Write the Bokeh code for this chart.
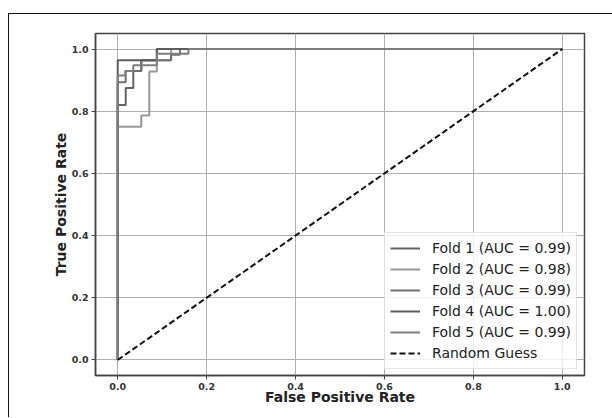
from bokeh.plotting import figure
from bokeh.models import Range1d, FixedTicker, Legend, LegendItem
from bokeh.embed import file_html
from bokeh.resources import INLINE

# ROC data per fold
fold1_fpr = [0.0, 0.0, 0.018, 0.018, 0.035, 0.035, 0.053, 0.053, 0.088, 0.088, 1.0]
fold1_tpr = [0.0, 0.82, 0.82, 0.875, 0.875, 0.929, 0.929, 0.964, 0.964, 1.0, 1.0]
fold2_fpr = [0.0, 0.0, 0.053, 0.053, 0.071, 0.071, 0.088, 0.088, 0.12, 0.12, 1.0]
fold2_tpr = [0.0, 0.75, 0.75, 0.786, 0.786, 0.928, 0.928, 0.964, 0.964, 1.0, 1.0]
fold3_fpr = [0.0, 0.0, 0.018, 0.018, 0.053, 0.053, 0.12, 0.12, 0.14, 0.14, 1.0]
fold3_tpr = [0.0, 0.893, 0.893, 0.929, 0.929, 0.964, 0.964, 0.982, 0.982, 1.0, 1.0]
fold4_fpr = [0.0, 0.0, 0.088, 0.088, 1.0]
fold4_tpr = [0.0, 0.964, 0.964, 1.0, 1.0]
fold5_fpr = [0.0, 0.0, 0.017, 0.017, 0.035, 0.035, 0.088, 0.088, 0.159, 0.159, 1.0]
fold5_tpr = [0.0, 0.915, 0.915, 0.929, 0.929, 0.948, 0.948, 0.985, 0.985, 1.0, 1.0]

fold_labels = ["Fold 1 (AUC = 0.99)", "Fold 2 (AUC = 0.98)", "Fold 3 (AUC = 0.99)",
               "Fold 4 (AUC = 1.00)", "Fold 5 (AUC = 0.99)"]
fold_colors = ["#646464", "#989898", "#707070", "#5c5c5c", "#7e7e7e"]
guess_x = [0.0, 1.0]
guess_y = [0.0, 1.0]
ticks = [0.0, 0.2, 0.4, 0.6, 0.8, 1.0]

p = figure(width=604, height=404, output_backend="svg", toolbar_location=None,
           x_range=Range1d(-0.05, 1.05), y_range=Range1d(-0.05, 1.05),
           min_border_left=86, min_border_right=29, min_border_top=19, min_border_bottom=43)
p.margin = (13, 0, 0, 8)
p.styles = {"border-top": "1.5px solid #111", "border-left": "1.5px solid #111"}

p.outline_line_color = "#444444"
p.outline_line_width = 1.5
for ax in (p.xaxis[0], p.yaxis[0]):
    ax.ticker = FixedTicker(ticks=ticks)
    ax.major_label_text_font = "DejaVu Sans"
    ax.major_label_text_font_style = "bold"
    ax.major_label_text_font_size = "9.5px"
    ax.major_label_text_color = "#333333"
    ax.axis_line_color = "#444444"
    ax.axis_line_width = 1.5
    ax.major_tick_line_color = "#444444"
    ax.major_tick_out = 4
    ax.major_tick_in = 0
    ax.minor_tick_line_color = None
    ax.axis_label_text_font = "DejaVu Sans"
    ax.axis_label_text_font_style = "bold"
    ax.axis_label_text_font_size = "14px"
    ax.axis_label_text_color = "#222222"
    ax.major_label_standoff = 3
p.xaxis[0].axis_label_standoff = -4
p.yaxis[0].axis_label_standoff = 0
p.xaxis.axis_label = "False Positive Rate"
p.yaxis.axis_label = "True Positive Rate"
p.xaxis[0].major_label_overrides = {t: f"{t:.1f}" for t in ticks}
p.yaxis[0].major_label_overrides = {t: f"{t:.1f}" for t in ticks}

p.grid.grid_line_color = "#b0b0b0"
p.grid.grid_line_width = 1
p.xgrid.ticker = FixedTicker(ticks=ticks)
p.ygrid.ticker = FixedTicker(ticks=ticks)

folds = [(fold1_fpr, fold1_tpr), (fold2_fpr, fold2_tpr), (fold3_fpr, fold3_tpr),
         (fold4_fpr, fold4_tpr), (fold5_fpr, fold5_tpr)]
items = []
for (fx, fy), lab, col in zip(folds, fold_labels, fold_colors):
    r = p.line(fx, fy, line_color=col, line_width=2)
    items.append(LegendItem(label=lab, renderers=[r]))
rg = p.line(guess_x, guess_y, line_color="#111111", line_width=2, line_dash="6 3")
items.append(LegendItem(label="Random Guess", renderers=[rg]))

legend = Legend(items=items, location=(289, 6))
legend.label_text_font = "DejaVu Sans"
legend.label_text_font_size = "14px"
legend.label_text_color = "#222222"
legend.glyph_width = 30
legend.glyph_height = 20
legend.label_height = 20
legend.label_standoff = 12
legend.spacing = 1
legend.padding = 5
legend.margin = 0
legend.border_line_color = "#cccccc"
legend.border_line_width = 1
legend.background_fill_alpha = 0.8
p.add_layout(legend, "center")

open("out.html", "w").write(file_html(p, INLINE))
